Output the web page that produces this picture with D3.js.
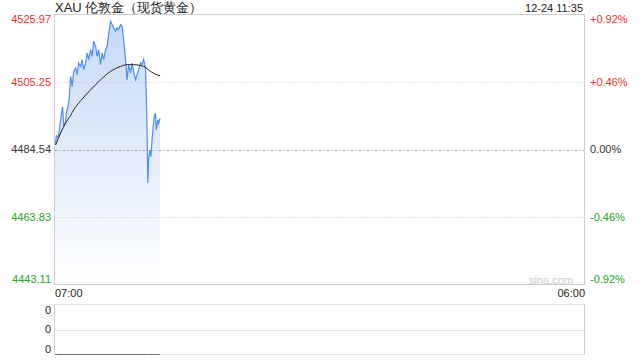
<!DOCTYPE html>
<html>
<head>
<meta charset="utf-8">
<script src="https://cdn.jsdelivr.net/npm/d3@7"></script>
<style>
  body { margin: 0; background: #fff; }
  svg { display: block; font-family: "Liberation Sans", Arial, sans-serif; }
</style>
</head>
<body>
<svg id="chart" width="640" height="360"></svg>
<script>
// minutes after 07:00 and price
const priceMin = [1, 3, 5, 9, 13, 17, 21, 24, 28, 31, 35, 38, 42, 46, 50, 55, 59, 63, 68, 72, 76, 81, 85, 89, 94, 98, 102, 107, 111, 115, 120, 124, 128, 133, 137, 141, 146, 150, 154, 159, 163, 167, 172, 176, 180, 185, 189, 193, 198, 202, 206, 211, 215, 219, 224, 228, 232, 237, 239, 241, 243, 245, 248, 251, 254, 257, 260, 263, 265, 269, 271, 275]
const price = [4485.93, 4486.95, 4488.70, 4488.30, 4490.55, 4494.65, 4497.73, 4491.57, 4492.61, 4495.69, 4497.73, 4499.79, 4506.97, 4503.89, 4508.51, 4509.55, 4507.49, 4511.09, 4510.05, 4512.11, 4509.03, 4511.09, 4514.17, 4512.11, 4515.19, 4513.13, 4517.75, 4516.21, 4513.13, 4515.19, 4510.57, 4514.17, 4512.11, 4515.19, 4516.21, 4519.81, 4523.91, 4522.89, 4521.87, 4520.83, 4521.87, 4521.35, 4522.89, 4522.37, 4518.27, 4512.11, 4505.95, 4510.57, 4508.01, 4511.09, 4508.51, 4505.95, 4507.49, 4509.03, 4511.09, 4510.57, 4512.11, 4509.55, 4500.81, 4490.55, 4474.23, 4481.31, 4484.39, 4482.33, 4487.47, 4491.57, 4494.65, 4495.69, 4490.55, 4493.63, 4492.61, 4494.15]
const avgMin = [3, 16, 29, 42, 50, 68, 94, 120, 146, 172, 189, 206, 232, 250, 263, 275]
const avgPrice = [4485.93, 4489.63, 4492.71, 4495.00, 4496.71, 4499.48, 4502.87, 4505.95, 4508.51, 4510.05, 4510.57, 4510.57, 4510.05, 4508.51, 4507.64, 4507.18]
const volume = priceMin.map(() => 0)

const prevClose = 4484.54
const priceTicks = [4525.97, 4505.25, 4484.54, 4463.83, 4443.11]
const pctTicks = ['+0.92%', '+0.46%', '0.00%', '-0.46%', '-0.92%']
const volTicks = ['0', '0', '0']
const timeLabels = ['07:00', '06:00']
const title = 'XAU 伦敦金（现货黄金）'
const stamp = '12-24 11:35'

const red = '#f0302c', green = '#22a52a', dark = '#333'
const tickColor = v => v > prevClose ? red : (v < prevClose ? green : dark)

const svg = d3.select('#chart')
const L = 54.5, R = 584.5, T = 14.5, B = 284.5
const VT = 304.5, VB = 354.5

const x = d3.scaleLinear().domain([0, 1380]).range([L, R])
const y = d3.scaleLinear().domain([4443.11, 4525.97]).range([B, T])
const yv = d3.scaleLinear().domain([0, 1]).range([VB, VT])

// gradient for area
const grad = svg.append('defs').append('linearGradient')
  .attr('id', 'g').attr('x1', 0).attr('y1', 0).attr('x2', 0).attr('y2', 1)
grad.append('stop').attr('offset', '0%').attr('stop-color', '#c6daf8')
grad.append('stop').attr('offset', '100%').attr('stop-color', '#ffffff')

// area + lines
const pts = priceMin.map((m, i) => [m, price[i]])
svg.append('path').datum(pts)
  .attr('d', d3.area().x(d => x(d[0])).y0(B).y1(d => y(d[1])))
  .attr('fill', 'url(#g)')

// grid lines (on top of the fill)
priceTicks.slice(1, 4).forEach(v => {
  svg.append('line')
    .attr('x1', L).attr('x2', R)
    .attr('y1', Math.round(y(v)) + 0.5).attr('y2', Math.round(y(v)) + 0.5)
    .attr('stroke', v === prevClose ? '#aaa' : '#c8c8c8')
    .attr('stroke-dasharray', v === prevClose ? '3,2,1,2' : '1,2')
})

svg.append('path').datum(pts)
  .attr('d', d3.line().x(d => x(d[0])).y(d => y(d[1])))
  .attr('fill', 'none').attr('stroke', '#4d8cf5').attr('stroke-width', 1.2)
svg.append('path').datum(avgMin.map((m, i) => [m, avgPrice[i]]))
  .attr('d', d3.line().curve(d3.curveMonotoneX).x(d => x(d[0])).y(d => y(d[1])))
  .attr('fill', 'none').attr('stroke', '#222').attr('stroke-width', 1)

// main frame
svg.append('rect').attr('x', L).attr('y', T).attr('width', R - L).attr('height', B - T)
  .attr('fill', 'none').attr('stroke', '#ccc')

// price labels
svg.selectAll('.pl').data(priceTicks).join('text')
  .attr('x', 51).attr('y', (d, i) => y(d) + (i === 0 ? 5 : i === 4 ? -5 : 0))
  .attr('dy', '0.35em').attr('text-anchor', 'end').attr('font-size', 11)
  .attr('fill', d => tickColor(d)).text(d => d.toFixed(2))
svg.selectAll('.pr').data(pctTicks).join('text')
  .attr('x', 590).attr('y', (d, i) => y(priceTicks[i]) + (i === 0 ? 5 : i === 4 ? -5 : 0))
  .attr('dy', '0.35em').attr('font-size', 11)
  .attr('fill', (d, i) => tickColor(priceTicks[i])).text(d => d)

// title & stamp
svg.append('text').attr('x', 55).attr('y', 12).attr('font-size', 13).attr('fill', '#222').text(title)
svg.append('text').attr('x', 583).attr('y', 12).attr('font-size', 11).attr('fill', '#222')
  .attr('text-anchor', 'end').text(stamp)
svg.append('text').attr('x', 573).attr('y', 280).attr('dy', '0.35em').attr('font-size', 11)
  .attr('fill', '#ccc').attr('text-anchor', 'end').text('sina.com')

// time labels
svg.append('text').attr('x', 55).attr('y', 293).attr('dy', '0.35em').attr('font-size', 11)
  .attr('fill', '#222').text(timeLabels[0])
svg.append('text').attr('x', 585).attr('y', 293).attr('dy', '0.35em').attr('font-size', 11)
  .attr('fill', '#222').attr('text-anchor', 'end').text(timeLabels[1])

// volume panel
;[VT, (VT + VB) / 2 + 0.5, VB].forEach(v => {
  svg.append('line').attr('x1', L).attr('x2', R).attr('y1', Math.floor(v) + 0.5).attr('y2', Math.floor(v) + 0.5)
    .attr('stroke', '#c8c8c8').attr('stroke-dasharray', '1,1')
})
svg.append('line').attr('x1', L).attr('x2', L).attr('y1', VT).attr('y2', VB).attr('stroke', '#ccc')
svg.append('line').attr('x1', R).attr('x2', R).attr('y1', VT).attr('y2', VB).attr('stroke', '#ccc')
svg.append('path').datum(priceMin.map((m, i) => [m, volume[i]]))
  .attr('d', d3.line().x(d => x(d[0])).y(d => yv(d[1])))
  .attr('fill', 'none').attr('stroke', '#666')
svg.selectAll('.vl').data(volTicks).join('text')
  .attr('x', 51).attr('y', (d, i) => [310, 329, 349][i])
  .attr('dy', '0.35em').attr('text-anchor', 'end').attr('font-size', 11)
  .attr('fill', '#222').text(d => d)
</script>
</body>
</html>
